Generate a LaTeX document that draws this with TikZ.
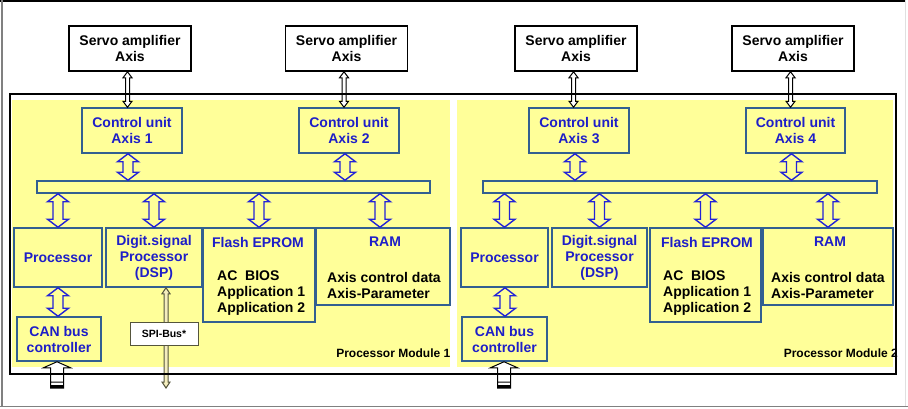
\documentclass[tikz,border=0pt]{standalone}
\usepackage{fontspec}
\setmainfont{Liberation Sans}
\usetikzlibrary{calc}
\definecolor{panel}{RGB}{255,255,153}
\definecolor{txtblue}{RGB}{30,30,200}
\definecolor{edgeblue}{RGB}{50,95,145}
\definecolor{arrblue}{RGB}{35,35,215}
\definecolor{spiedge}{RGB}{85,85,60}
\definecolor{spifill}{RGB}{245,238,190}
\newcommand\dblarrow[6][]{%
  \draw[#1] let \p1=#2, \p2=#3 in
   (\x1,\y1) -- (\x1+#4,\y1-#6) -- (\x1+#5,\y1-#6) -- (\x1+#5,\y2+#6) -- (\x1+#4,\y2+#6)
   -- (\x1,\y2) -- (\x1-#4,\y2+#6) -- (\x1-#5,\y2+#6) -- (\x1-#5,\y1-#6) -- (\x1-#4,\y1-#6) -- cycle;}
\newcommand\uparrowblk[6][]{%
  \draw[#1] let \p1=#2, \p2=#3 in
   (\x1,\y1) -- (\x1+#4,\y1-#6) -- (\x1+#5,\y1-#6) -- (\x1+#5,\y2) -- (\x1-#5,\y2)
   -- (\x1-#5,\y1-#6) -- (\x1-#4,\y1-#6) -- cycle
   (\x1-#5,\y2+1.5pt) -- (\x1+#5,\y2+1.5pt)
   (\x1-#5,\y2+6pt) -- (\x1+#5,\y2+6pt);}
\begin{document}
\begin{tikzpicture}[x=1pt,y=-1pt,
  lbl/.style={font=\bfseries\fontsize{14}{16}\selectfont, align=center, inner sep=0pt},
  servo/.style={lbl, draw=black, line width=1.5pt, fill=white, minimum width=122pt, minimum height=45pt},
  unit/.style={lbl, draw=edgeblue, line width=1.5pt, fill=panel, text=txtblue},
  bus/.style={draw=edgeblue, line width=1.5pt, fill=panel, inner sep=0pt},
  bluetxt/.style={lbl, text=txtblue},
  listtxt/.style={lbl, align=left, anchor=west},
  bluearr/.style={draw=arrblue, fill=panel, line width=1.4pt, line join=miter},
  blackarr/.style={draw=black, fill=white, line width=1pt, line join=miter},
  spiarr/.style={draw=spiedge, fill=spifill, line width=1pt, line join=miter},
  inarr/.style={draw=black, fill=white, line width=1pt, line join=miter},
  spibox/.style={draw=spiedge, line width=1pt, fill=white, inner sep=0pt, minimum width=68pt, minimum height=23pt, font=\bfseries\fontsize{10.5}{12}\selectfont},
  modlbl/.style={font=\bfseries\fontsize{12}{14}\selectfont, inner sep=0pt, anchor=east}]
\useasboundingbox (0,0) rectangle (908,408);
\fill[white] (0,0) rectangle (908,408);
% yellow panels
\fill[panel] (12,100) rectangle (450,367);
\fill[panel] (457,100) rectangle (893,367);
% servo amplifiers
\node[servo] (sa1) at (130,48.5) {Servo amplifier\\Axis};
\node[servo] (sa2) at (346.5,48.5) {Servo amplifier\\Axis};
\node[servo] (sa3) at (576,48.5) {Servo amplifier\\Axis};
\node[servo] (sa4) at (793,48.5) {Servo amplifier\\Axis};
% control units
\node[unit, minimum width=100pt, minimum height=45pt] (cu1) at (132,130.5) {Control unit\\Axis 1};
\node[unit, minimum width=100pt, minimum height=45pt] (cu2) at (349,130.5) {Control unit\\Axis 2};
\node[unit, minimum width=100pt, minimum height=45pt] (cu3) at (579,130.5) {Control unit\\Axis 3};
\node[unit, minimum width=99pt, minimum height=45pt] (cu4) at (795.5,130.5) {Control unit\\Axis 4};
% buses
\node[bus, minimum width=393pt, minimum height=12pt] (bus1) at (233.5,187) {};
\node[bus, minimum width=394pt, minimum height=12pt] (bus2) at (680,187) {};
% module 1 blocks
\node[unit, minimum width=88pt, minimum height=59pt] (proc1) at (58,257.5) {Processor};
\node[unit, minimum width=96pt, minimum height=59pt] (dsp1) at (154,257.5) {Digit.signal\\Processor\\(DSP)};
\node[unit, minimum width=112pt, minimum height=94pt] (flash1) at (259,275) {};
\node[unit, minimum width=134pt, minimum height=77pt] (ram1) at (383,266.5) {};
\node[bluetxt] (fl1t) at (258,242) {Flash EPROM};
\node[listtxt] (fl1l) at (217,293) {AC\ \ BIOS\\Application 1\\Application 2};
\node[bluetxt] (ra1t) at (385,242) {RAM};
\node[listtxt] (ra1l) at (327,285) {Axis control data\\Axis-Parameter};
\node[unit, minimum width=84pt, minimum height=44pt] (can1) at (59,339) {CAN bus\\controller};
% module 2 blocks
\node[unit, minimum width=87pt, minimum height=59pt] (proc2) at (504.5,257.5) {Processor};
\node[unit, minimum width=95pt, minimum height=59pt] (dsp2) at (599.5,257.5) {Digit.signal\\Processor\\(DSP)};
\node[unit, minimum width=111pt, minimum height=94pt] (flash2) at (705.5,275) {};
\node[unit, minimum width=130pt, minimum height=77pt] (ram2) at (828,266.5) {};
\node[bluetxt] (fl2t) at (707,242) {Flash EPROM};
\node[listtxt] (fl2l) at (663,293) {AC\ \ BIOS\\Application 1\\Application 2};
\node[bluetxt] (ra2t) at (830,242) {RAM};
\node[listtxt] (ra2l) at (771,285) {Axis control data\\Axis-Parameter};
\node[unit, minimum width=85pt, minimum height=44pt] (can2) at (504.5,339) {CAN bus\\controller};
% servo <-> control unit arrows
\foreach \i in {1,2,3,4}{
  \coordinate (st\i) at ([xshift=-2.5pt]sa\i.south);
  \coordinate (sb\i) at (st\i |- cu\i.north);
  \dblarrow[blackarr]{(st\i)}{(sb\i)}{4.5pt}{2pt}{6pt}
  \coordinate (ct\i) at ([xshift=-4pt]cu\i.south);
}
\coordinate (cb1) at (ct1 |- bus1.north);
\coordinate (cb2) at (ct2 |- bus1.north);
\coordinate (cb3) at (ct3 |- bus2.north);
\coordinate (cb4) at (ct4 |- bus2.north);
\foreach \i in {1,2,3,4}{
  \dblarrow[bluearr]{(ct\i)}{(cb\i)}{10.5pt}{5pt}{8pt}
}
% bus <-> block arrows
\foreach \b/\m in {proc1/1,dsp1/1,flash1/1,proc2/2,dsp2/2,flash2/2,ram2/2}{
  \coordinate (\b top) at (\b.north |- bus\m.south);
  \dblarrow[bluearr]{(\b top)}{(\b.north)}{10.5pt}{5pt}{8pt}
}
\coordinate (ram1n) at ([xshift=-3pt]ram1.north);
\coordinate (ram1top) at (ram1n |- bus1.south);
\dblarrow[bluearr]{(ram1top)}{(ram1n)}{10.5pt}{5pt}{8pt}
% processor <-> CAN
\coordinate (pc1) at (proc1.south |- can1.north);
\coordinate (pc2) at ([xshift=0.5pt]proc2.south |- can2.north);
\coordinate (ps2) at ([xshift=0.5pt]proc2.south);
\dblarrow[bluearr]{(proc1.south)}{(pc1)}{10.5pt}{5pt}{8pt}
\dblarrow[bluearr]{(ps2)}{(pc2)}{10.5pt}{5pt}{8pt}
% SPI bus
\coordinate (spiend) at (166,388);
\coordinate (spitop) at (spiend |- dsp1.south);
\dblarrow[spiarr]{(spitop)}{(spiend)}{4pt}{2pt}{6pt}
\node[spibox] (spi) at (164,333.5) {SPI-Bus*};
% CAN inputs
\coordinate (ct1in) at ([xshift=-2pt]can1.south);
\coordinate (cin1) at (ct1in |- 0,388);
\uparrowblk[inarr]{(ct1in)}{(cin1)}{13.5pt}{6.5pt}{6pt}
\fill[black] let \p1=(cin1) in (\x1-6.5pt,\y1) rectangle (\x1+6.5pt,\y1+3pt);
\coordinate (ct2in) at ([xshift=-0.5pt]can2.south);
\coordinate (cin2) at (ct2in |- 0,388);
\uparrowblk[inarr]{(ct2in)}{(cin2)}{13.5pt}{6.5pt}{6pt}
\fill[black] let \p1=(cin2) in (\x1-6.5pt,\y1) rectangle (\x1+6.5pt,\y1+3pt);
% module labels
\node[modlbl] (ml1) at (450.5,353) {Processor Module 1};
\node[modlbl] (ml2) at (898,353) {Processor Module 2};
% frame
\draw[black, line width=2pt] (10,94) rectangle (896,374);
% outer border
\draw[black, line width=1.5pt] (0,0.75) -- (905,0.75);
\draw[gray, line width=1.2pt] (2,0) -- (2,406.5);
\draw[gray, line width=1.5pt] (0,406.5) -- (908,406.5);
\draw[black!12, line width=1pt] (905,0) -- (905,406);
\end{tikzpicture}
\end{document}
